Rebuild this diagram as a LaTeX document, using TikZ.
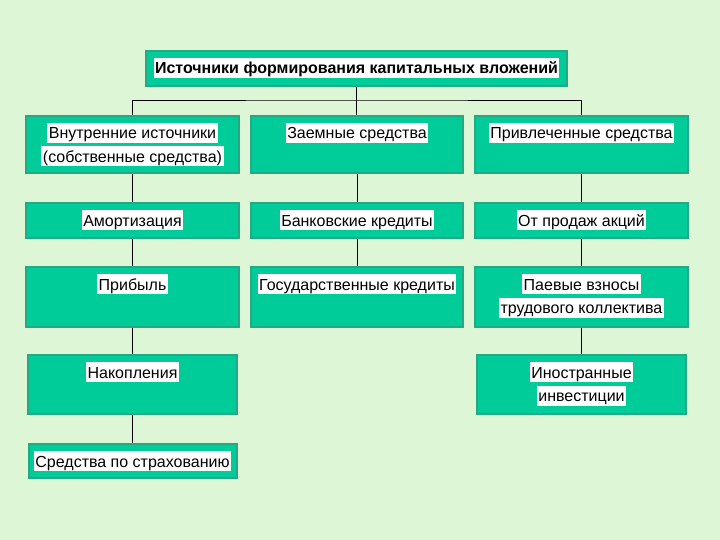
\documentclass[tikz,border=0pt]{standalone}
\usepackage{fontspec}
\setmainfont{Liberation Sans}
\definecolor{slidebg}{RGB}{221,246,214}
\definecolor{boxteal}{RGB}{0,204,153}
\definecolor{boxedge}{RGB}{38,168,134}
\usetikzlibrary{positioning}
\newcommand{\whitehl}[1]{{\setlength{\fboxsep}{0pt}\colorbox{white}{\rule[-4pt]{0pt}{20pt}\hspace{1.5pt}#1\hspace{1.5pt}}}}

\begin{document}
\begin{tikzpicture}[x=1pt, y=-1pt, font=\fontsize{16}{23.5}\selectfont,
    box/.style={rectangle, fill=boxteal, draw=boxedge, line width=2pt,
      anchor=north, inner sep=0pt, align=center,
      text height=23pt, text depth=12pt},
    twoline/.style={text height=46.5pt, text depth=#1},
    link/.style={black, line width=0.8pt}]
    % Slide background
    \fill[slidebg] (0,0) rectangle (720,540);

    % Title
    \node[box, minimum width=421pt, font=\fontsize{16}{23.5}\selectfont\bfseries]
      (title) at (356.5,50) {\whitehl{Источники формирования капитальных вложений}};

    % Column 1: internal sources
    \node[box, minimum width=213pt, twoline=10.5pt] (vnutr) at (132.5,115)
      {\whitehl{Внутренние источники}\\\whitehl{(собственные средства)}};
    \node[box, minimum width=213pt] (amort) at (132.5,202) {\whitehl{Амортизация}};
    \node[box, minimum width=213pt, text depth=37pt] (pribyl) at (132.5,266) {\whitehl{Прибыль}};
    \node[box, minimum width=209pt, text depth=36pt] (nakopl) at (132.5,354) {\whitehl{Накопления}};
    \node[box, minimum width=208pt, text depth=11pt] (strakh) at (132.5,443)
      {\whitehl{Средства по страхованию}};

    % Column 2: borrowed funds
    \node[box, minimum width=212pt, text depth=34pt] (zaem) at (357,115) {\whitehl{Заемные средства}};
    \node[box, minimum width=212pt] (bank) at (357,202) {\whitehl{Банковские кредиты}};
    \node[box, minimum width=212pt, text depth=37pt] (gos) at (357,266)
      {\whitehl{Государственные кредиты}};

    % Column 3: attracted funds
    \node[box, minimum width=213pt, text depth=34pt] (privl) at (581.5,115)
      {\whitehl{Привлеченные средства}};
    \node[box, minimum width=213pt] (akcii) at (581.5,202) {\whitehl{От продаж акций}};
    \node[box, minimum width=213pt, twoline=13.5pt] (paev) at (581.5,266)
      {\whitehl{Паевые взносы}\\\whitehl{трудового коллектива}};
    \node[box, minimum width=209pt, twoline=12.5pt] (inostr) at (581.5,354)
      {\whitehl{Иностранные}\\\whitehl{инвестиции}};

    % Connectors
    \coordinate (hub) at (title.south |- 0,100);
    \draw[link] (title.south) -- (title.south |- zaem.north);
    \draw[link] (vnutr.north) |- (hub) -| (privl.north);
    \foreach \a/\b in {vnutr/amort, amort/pribyl, pribyl/nakopl, nakopl/strakh,
                       zaem/bank, bank/gos,
                       privl/akcii, akcii/paev, paev/inostr}{
      \draw[link] (\a.south) -- (\b.north);
    }
\end{tikzpicture}
\end{document}
